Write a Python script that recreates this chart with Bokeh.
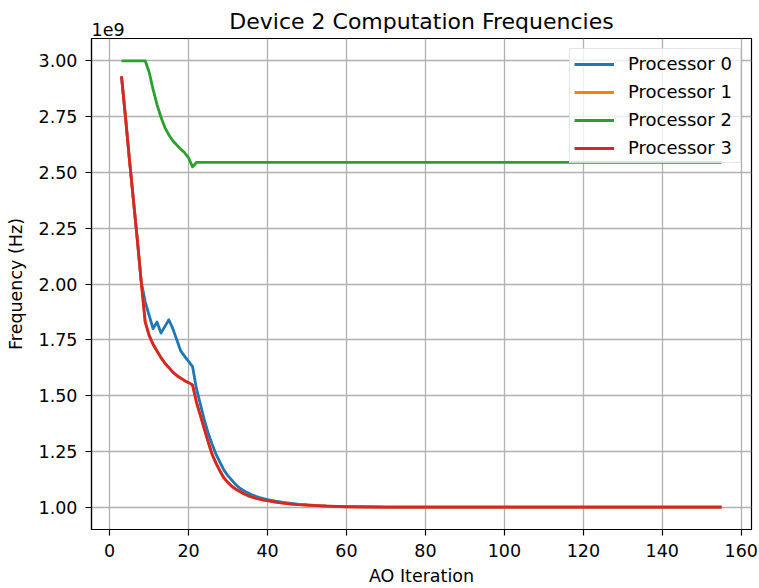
from bokeh.plotting import figure
from bokeh.models import Range1d, FixedTicker, NumeralTickFormatter, Title
from bokeh.embed import file_html
from bokeh.resources import INLINE

# ---- data (frequency values in units of 1e9 Hz, as on the axis) ----
iters = [3, 4, 5, 6, 7, 8, 9, 10, 11, 12, 13, 14, 15, 16, 17, 18, 19, 20, 21, 22,
         23, 24, 25, 26, 27, 28, 29, 30, 31, 32, 33, 34, 35, 36, 37, 38, 39, 40,
         42, 44, 46, 48, 50, 55, 60, 70, 155]

proc0 = [2.93, 2.75, 2.56, 2.38, 2.20, 2.01, 1.92, 1.86, 1.80, 1.83, 1.78, 1.81, 1.84,
         1.80, 1.75, 1.70, 1.676, 1.653, 1.63, 1.53, 1.46, 1.39, 1.33, 1.28, 1.235,
         1.20, 1.165, 1.14, 1.12, 1.10, 1.085, 1.074, 1.064, 1.056, 1.049, 1.043,
         1.038, 1.034, 1.027, 1.021, 1.017, 1.013, 1.010, 1.005, 1.003, 1.0, 1.0]

proc1 = [2.93, 2.75, 2.56, 2.38, 2.20, 2.01, 1.83, 1.77, 1.73, 1.70, 1.67, 1.645, 1.625,
         1.605, 1.59, 1.578, 1.567, 1.558, 1.548, 1.47, 1.41, 1.35, 1.29, 1.235, 1.195,
         1.16, 1.13, 1.11, 1.093, 1.08, 1.07, 1.06, 1.052, 1.046, 1.04, 1.036, 1.032,
         1.029, 1.023, 1.018, 1.014, 1.011, 1.009, 1.005, 1.002, 1.0, 1.0]

proc3 = [2.93, 2.75, 2.56, 2.38, 2.20, 2.01, 1.83, 1.77, 1.73, 1.70, 1.67, 1.645, 1.625,
         1.605, 1.59, 1.578, 1.567, 1.558, 1.548, 1.47, 1.41, 1.35, 1.29, 1.235, 1.195,
         1.16, 1.13, 1.11, 1.093, 1.08, 1.07, 1.06, 1.052, 1.046, 1.04, 1.036, 1.032,
         1.029, 1.023, 1.018, 1.014, 1.011, 1.009, 1.005, 1.002, 1.0, 1.0]

iters2 = [3, 4, 5, 6, 7, 8, 9, 10, 11, 12, 13, 14, 15, 16, 17, 18, 19, 20, 21, 22, 155]
proc2 = [3.0, 3.0, 3.0, 3.0, 3.0, 3.0, 3.0, 2.95, 2.872, 2.804, 2.747, 2.701, 2.668,
         2.642, 2.623, 2.605, 2.588, 2.565, 2.525, 2.545, 2.545]

x_ticks = [0, 20, 40, 60, 80, 100, 120, 140, 160]
y_ticks = [1.0, 1.25, 1.5, 1.75, 2.0, 2.25, 2.5, 2.75, 3.0]
series_names = ["Processor 0", "Processor 1", "Processor 2", "Processor 3"]
colors = ["#1f77b4", "#ff7f0e", "#2ca02c", "#d62728"]
title_text = "Device 2 Computation Frequencies"
x_label = "AO Iteration"
y_label = "Frequency (Hz)"
offset_text = "1e9"

FONT = "DejaVu Sans"
TICK_FS = "17.5px"

x0, x1 = -4.6, 162.6
y0, y1 = 0.9, 3.1

p = figure(width=759, height=588, output_backend="svg", toolbar_location=None,
           x_range=Range1d(x0, x1), y_range=Range1d(y0, y1),
           min_border_left=91, min_border_right=8, min_border_top=38, min_border_bottom=58)

p.title.text = title_text
p.title.align = "center"
p.title.text_font = FONT
p.title.text_font_size = "22px"
p.title.text_font_style = "normal"
p.title.text_color = "black"
p.title.standoff = -30

p.add_layout(Title(text=offset_text, align="left", text_font=FONT, text_font_size=TICK_FS,
                   text_font_style="normal", text_color="black", standoff=5), "above")

p.outline_line_color = "black"
p.outline_line_width = 1.2
p.background_fill_color = "white"
p.border_fill_color = "white"

for ax in (p.xaxis[0], p.yaxis[0]):
    ax.axis_line_color = "black"
    ax.axis_line_width = 1.2
    ax.major_tick_out = 6
    ax.major_tick_in = 0
    ax.major_tick_line_width = 1.2
    ax.minor_tick_line_color = None
    ax.major_label_text_font = FONT
    ax.major_label_text_font_size = TICK_FS
    ax.major_label_text_color = "black"
    ax.axis_label_text_font = FONT
    ax.axis_label_text_font_size = TICK_FS
    ax.axis_label_text_font_style = "normal"
    ax.axis_label_text_color = "black"

p.xaxis.ticker = FixedTicker(ticks=x_ticks)
p.yaxis.ticker = FixedTicker(ticks=y_ticks)
p.yaxis.formatter = NumeralTickFormatter(format="0.00")
p.xaxis.axis_label = x_label
p.yaxis.axis_label = y_label
p.xaxis.major_label_standoff = 8
p.yaxis.major_label_standoff = 8
p.xaxis.axis_label_standoff = 6
p.yaxis.axis_label_standoff = 10

p.xgrid.grid_line_color = "#b0b0b0"
p.ygrid.grid_line_color = "#b0b0b0"
p.xgrid.grid_line_width = 1.3
p.ygrid.grid_line_width = 1.3

xs = [iters, iters, iters2, iters]
ys = [proc0, proc1, proc2, proc3]
for name, c, xv, yv in zip(series_names, colors, xs, ys):
    p.line(xv, yv, line_color=c, line_width=2.8, line_join="round", legend_label=name)

lg = p.legend[0]
lg.location = "top_right"
lg.margin = 10
lg.padding = 4
lg.spacing = 7
lg.glyph_width = 40
lg.glyph_height = 20
lg.label_height = 20
lg.label_width = 108
lg.label_standoff = 14
lg.label_text_font = FONT
lg.label_text_font_size = "18px"
lg.label_text_color = "black"
lg.border_line_color = "#cccccc"
lg.border_line_width = 1.2
lg.background_fill_alpha = 0.8

open("out.html", "w").write(file_html(p, INLINE))
